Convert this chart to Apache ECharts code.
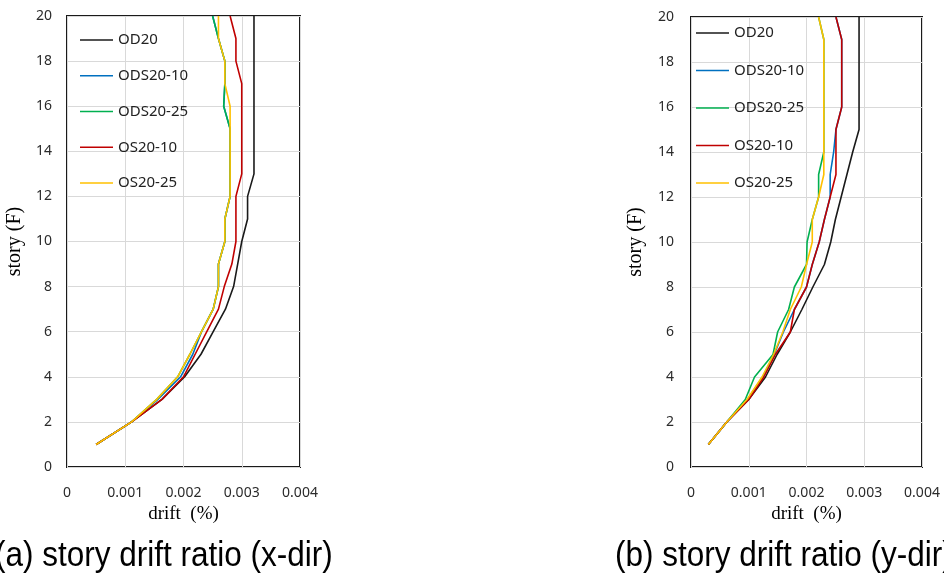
<!DOCTYPE html>
<html>
<head>
<meta charset="utf-8">
<script src="https://cdn.jsdelivr.net/npm/echarts@6/dist/echarts.min.js"></script>
<style>
html,body{margin:0;padding:0;background:#fff;}
#c{width:944px;height:576px;}
</style>
</head>
<body>
<div id="c"></div>
<script>
const stories = [1,2,3,4,5,6,7,8,9,10,11,12,13,14,15,16,17,18,19,20];
const seriesNames = ['OD20','ODS20-10','ODS20-25','OS20-10','OS20-25'];
const xTicks = [0, 0.001, 0.002, 0.003, 0.004];

// (a) x-direction drift, story 1..20
const xdir_OD20    = [0.0005,0.00111,0.00163,0.00202,0.0023,0.00251,0.00272,0.00286,0.00293,0.003,0.0031,0.0031,0.00321,0.00321,0.00321,0.00321,0.00321,0.00321,0.00321,0.00321];
const xdir_ODS2010 = [0.0005,0.00111,0.00156,0.00195,0.00216,0.00231,0.00251,0.0026,0.0026,0.00271,0.00271,0.0028,0.0028,0.0028,0.0028,0.00269,0.00271,0.00271,0.0026,0.0025];
const xdir_ODS2025 = [0.0005,0.00111,0.00154,0.0019,0.00211,0.00231,0.00251,0.0026,0.0026,0.00271,0.00271,0.0028,0.0028,0.0028,0.0028,0.00269,0.00271,0.00271,0.0026,0.0025];
const xdir_OS2010  = [0.0005,0.00111,0.00163,0.002,0.0022,0.0024,0.0026,0.0027,0.00283,0.0029,0.0029,0.0029,0.003,0.003,0.003,0.003,0.003,0.0029,0.0029,0.0028];
const xdir_OS2025  = [0.0005,0.00111,0.00154,0.0019,0.00211,0.00231,0.00251,0.0026,0.0026,0.00271,0.00271,0.0028,0.0028,0.0028,0.0028,0.0028,0.00271,0.00271,0.0026,0.0026];

// (b) y-direction drift, story 1..20
const ydir_OD20    = [0.0003,0.00062,0.001,0.00129,0.00149,0.00172,0.00192,0.00211,0.00231,0.00242,0.0025,0.0026,0.0027,0.0028,0.00291,0.00291,0.00291,0.00291,0.00291,0.00291];
const ydir_ODS2010 = [0.0003,0.00062,0.00098,0.00124,0.00144,0.0016,0.00179,0.002,0.0021,0.00222,0.00231,0.00241,0.00241,0.00247,0.00251,0.00261,0.00261,0.00261,0.00261,0.00251];
const ydir_ODS2025 = [0.0003,0.00062,0.00094,0.0011,0.00142,0.0015,0.00169,0.00179,0.002,0.00201,0.0021,0.00221,0.00221,0.0023,0.0023,0.0023,0.0023,0.0023,0.0023,0.00221];
const ydir_OS2010  = [0.0003,0.00062,0.001,0.00126,0.00146,0.00172,0.00179,0.002,0.0021,0.00222,0.00231,0.00241,0.00251,0.00251,0.00251,0.00261,0.00261,0.00261,0.00261,0.00251];
const ydir_OS2025  = [0.0003,0.00062,0.00097,0.00123,0.00143,0.00159,0.00172,0.00191,0.002,0.0021,0.0021,0.00221,0.0023,0.0023,0.0023,0.0023,0.0023,0.0023,0.0023,0.00221];

const colors = ['#1a1a1a','#0070C0','#00B050','#C00000','#FFC000'];
const xSets = [xdir_OD20,xdir_ODS2010,xdir_ODS2025,xdir_OS2010,xdir_OS2025];
const ySets = [ydir_OD20,ydir_ODS2010,ydir_ODS2025,ydir_OS2010,ydir_OS2025];

const tickFont = {fontFamily:'Noto Sans', fontSize:14, color:'#2b2b2b'};

function xAxisCfg(idx){
  return {
    type:'value', gridIndex:idx, min:0, max:0.004, interval:0.001,
    axisLine:{show:false}, axisTick:{show:false},
    axisLabel:Object.assign({margin:19, formatter:v=> v===0?'0':v.toFixed(3)}, tickFont),
    splitLine:{show:true, lineStyle:{color:'#d9d9d9', width:1}},
    name:'drift  (%)', nameLocation:'middle', nameGap:35,
    nameTextStyle:{fontFamily:'Liberation Serif', fontSize:19, color:'#000'}
  };
}
function yAxisCfg(idx, margin, gap){
  return {
    type:'value', gridIndex:idx, min:0, max:20, interval:2,
    axisLine:{show:false}, axisTick:{show:false},
    axisLabel:Object.assign({margin:margin}, tickFont),
    splitLine:{show:true, lineStyle:{color:'#d9d9d9', width:1}},
    name:'story (F)', nameLocation:'middle', nameGap:gap, nameRotate:90,
    nameTextStyle:{fontFamily:'Liberation Serif', fontSize:20, color:'#000'}
  };
}

const series = [];
seriesNames.forEach((n,i)=>{
  series.push({
    name:n, type:'line', xAxisIndex:0, yAxisIndex:0, symbol:'none',
    lineStyle:{color:colors[i], width:1.6}, itemStyle:{color:colors[i]},
    data: stories.map((s,k)=>[xSets[i][k], s]), animation:false
  });
});
seriesNames.forEach((n,i)=>{
  series.push({
    name:n, type:'line', xAxisIndex:1, yAxisIndex:1, symbol:'none',
    lineStyle:{color:colors[i], width:1.6}, itemStyle:{color:colors[i]},
    data: stories.map((s,k)=>[ySets[i][k], s]), animation:false
  });
});

const legendBase = {
  orient:'vertical', data:seriesNames.map(n=>({name:n, icon:'rect'})), icon:'rect',
  itemWidth:33, itemHeight:1.6, padding:0,
  itemGap:20, textStyle:{fontFamily:'Noto Sans', fontSize:15, color:'#222', lineHeight:16},
  selectedMode:false
};

const chart = echarts.init(document.getElementById('c'), null, {renderer:'canvas'});
chart.setOption({
  animation:false,
  backgroundColor:'#fff',
  grid:[
    {left:67, top:16, width:233, height:451, show:true, borderColor:'#1a1a1a', borderWidth:2, containLabel:false},
    {left:691, top:17, width:231, height:450, show:true, borderColor:'#1a1a1a', borderWidth:2, containLabel:false}
  ],
  xAxis:[xAxisCfg(0), xAxisCfg(1)],
  yAxis:[yAxisCfg(0,15,42), yAxisCfg(1,17,45)],
  legend:[
    Object.assign({}, legendBase, {left:80, top:32, itemGap:19.75}),
    Object.assign({}, legendBase, {left:696, top:25, itemGap:21.5})
  ],
  series:series,
  graphic:[
    {type:'text', x:-5, y:556, scaleX:0.9, style:{text:'(a) story drift ratio (x-dir)', x:0, y:0, font:'35px "Liberation Sans"', fill:'#000', verticalAlign:'middle', align:'left'}},
    {type:'text', x:615, y:556, scaleX:0.9, style:{text:'(b) story drift ratio (y-dir)', x:0, y:0, font:'35px "Liberation Sans"', fill:'#000', verticalAlign:'middle', align:'left'}}
  ]
});
</script>
</body>
</html>
